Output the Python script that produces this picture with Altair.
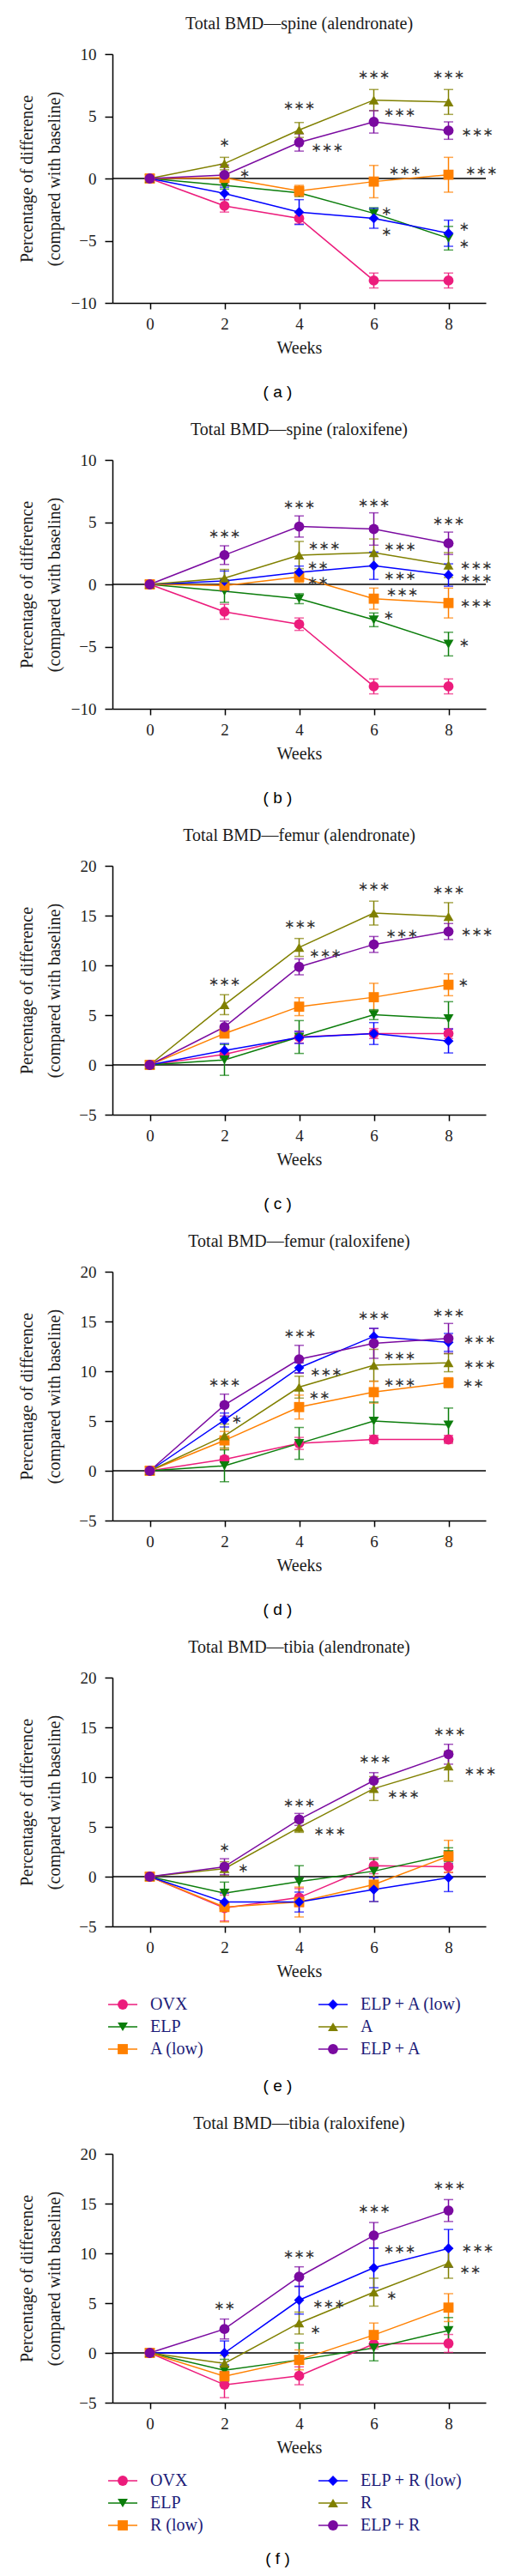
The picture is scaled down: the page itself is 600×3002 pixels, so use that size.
import altair as alt
import pandas as pd

weeks = [0, 2, 4, 6, 8]
names_alen = ["OVX", "ELP", "A (low)", "ELP + A (low)", "A", "ELP + A"]
names_ralo = ["OVX", "ELP", "R (low)", "ELP + R (low)", "R", "ELP + R"]
colors = ["#ec1c7c", "#0b7d0b", "#ff8000", "#0000ff", "#808000", "#7a0aa0"]
shapes = ["circle", "triangle-down", "square", "diamond", "triangle-up", "circle"]

# ---- (a) spine, alendronate
spine_alen_mean = [
    [0, -2.2, -3.2, -8.2, -8.2],
    [0, -0.55, -1.15, -2.8, -4.8],
    [0, 0.05, -1.0, -0.25, 0.3],
    [0, -1.2, -2.7, -3.2, -4.4],
    [0, 1.2, 3.9, 6.3, 6.15],
    [0, 0.28, 2.9, 4.55, 3.85],
]
spine_alen_sem = [
    [0.2, 0.5, 0.45, 0.6, 0.6],
    [0.2, 0.3, 0.3, 0.45, 0.95],
    [0.3, 0.3, 0.45, 1.3, 1.4],
    [0.2, 0.5, 1.0, 0.8, 1.05],
    [0.2, 0.5, 0.6, 0.85, 1.0],
    [0.2, 0.8, 0.7, 0.9, 0.7],
]
spine_alen_stars = [(2.0, 2.9, "*"), (2.54, 0.4, "*"), (4.0, 5.85, "***"), (4.75, 2.5, "***"),
                    (6.0, 8.35, "***"), (6.69, 5.3, "***"), (6.83, 0.6, "***"), (6.34, -2.6, "*"),
                    (6.34, -4.3, "*"), (8.0, 8.35, "***"), (8.77, 3.75, "***"), (8.88, 0.6, "***"),
                    (8.42, -3.85, "*"), (8.42, -5.25, "*")]

# ---- (b) spine, raloxifene
spine_ralo_mean = [
    [0, -2.2, -3.2, -8.2, -8.2],
    [0, -0.55, -1.15, -2.85, -4.8],
    [0, -0.1, 0.6, -1.15, -1.5],
    [0, 0.27, 0.97, 1.5, 0.75],
    [0, 0.5, 2.35, 2.55, 1.55],
    [0, 2.35, 4.65, 4.45, 3.3],
]
spine_ralo_sem = [
    [0.2, 0.6, 0.5, 0.6, 0.6],
    [0.2, 0.9, 0.4, 0.55, 0.95],
    [0.3, 0.35, 0.45, 0.85, 1.2],
    [0.2, 0.8, 0.5, 1.1, 0.9],
    [0.2, 0.7, 1.1, 1.1, 1.0],
    [0.2, 0.75, 0.85, 1.3, 0.9],
]
spine_ralo_stars = [(2.0, 4.05, "***"), (4.0, 6.4, "***"), (4.67, 3.1, "***"), (4.5, 1.55, "**"),
                    (4.5, 0.25, "**"), (6.0, 6.55, "***"), (6.7, 3.05, "***"), (6.7, 0.7, "***"),
                    (6.76, -0.65, "***"), (6.4, -2.5, "*"), (8.0, 5.1, "***"), (8.74, 1.5, "***"),
                    (8.74, 0.45, "***"), (8.74, -1.55, "***"), (8.42, -4.7, "*")]

# ---- (c) femur, alendronate
femur_alen_mean = [
    [0, 1.05, 2.8, 3.15, 3.15],
    [0, 0.5, 2.8, 5.05, 4.65],
    [0, 3.15, 5.85, 6.8, 8.05],
    [0, 1.45, 2.75, 3.15, 2.4],
    [0, 6.05, 11.8, 15.25, 14.9],
    [0, 3.8, 9.85, 12.1, 13.4],
]
femur_alen_sem = [
    [0.2, 0.4, 0.6, 0.5, 0.5],
    [0.2, 1.55, 1.65, 0.5, 1.7],
    [0.4, 0.4, 0.9, 1.4, 1.1],
    [0.2, 0.7, 0.6, 1.1, 1.2],
    [0.2, 1.0, 0.9, 1.2, 1.4],
    [0.2, 0.6, 0.8, 0.8, 0.8],
]
femur_alen_stars = [(2.0, 8.4, "***"), (4.03, 14.15, "***"), (4.7, 11.25, "***"), (6.0, 17.9, "***"),
                    (6.75, 13.2, "***"), (8.0, 17.6, "***"), (8.76, 13.4, "***"), (8.4, 8.25, "*")]

# ---- (d) femur, raloxifene
femur_ralo_mean = [
    [0, 1.15, 2.75, 3.15, 3.15],
    [0, 0.5, 2.75, 5.0, 4.6],
    [0, 3.05, 6.4, 7.9, 8.85],
    [0, 5.1, 10.35, 13.5, 12.9],
    [0, 3.5, 8.4, 10.6, 10.85],
    [0, 6.6, 11.2, 12.8, 13.3],
]
femur_ralo_sem = [
    [0.2, 0.3, 0.6, 0.4, 0.4],
    [0.2, 1.6, 1.6, 1.9, 1.7],
    [0.3, 0.9, 1.2, 1.1, 0.5],
    [0.2, 0.7, 0.5, 0.8, 0.9],
    [0.2, 1.2, 1.1, 1.6, 0.9],
    [0.2, 1.1, 1.4, 1.5, 1.5],
]
femur_ralo_stars = [(2.0, 8.9, "***"), (2.33, 5.15, "*"), (4.02, 13.8, "***"), (4.72, 9.9, "***"),
                    (4.54, 7.6, "**"), (6.0, 15.6, "***"), (6.69, 11.55, "***"), (6.69, 8.85, "***"),
                    (8.0, 15.9, "***"), (8.83, 13.15, "***"), (8.83, 10.7, "***"), (8.66, 8.8, "**")]

# ---- (e) tibia, alendronate
tibia_alen_mean = [
    [0, -3.15, -2.1, 1.1, 1.0],
    [0, -1.65, -0.5, 0.55, 2.2],
    [0, -3.05, -2.55, -0.8, 2.05],
    [0, -2.55, -2.55, -1.3, -0.1],
    [0, 0.8, 4.95, 8.85, 11.1],
    [0, 1.0, 5.75, 9.65, 12.3],
]
tibia_alen_sem = [
    [0.2, 1.3, 0.9, 0.8, 0.6],
    [0.2, 1.1, 1.6, 1.2, 0.7],
    [0.3, 1.5, 1.5, 1.7, 1.6],
    [0.2, 0.9, 1.0, 1.2, 1.4],
    [0.2, 0.7, 0.5, 1.2, 1.5],
    [0.2, 0.8, 0.6, 0.8, 1.0],
]
tibia_alen_stars = [(2.0, 2.95, "*"), (2.5, 0.85, "*"), (4.0, 7.45, "***"), (4.82, 4.6, "***"),
                    (6.03, 11.8, "***"), (6.79, 8.25, "***"), (8.03, 14.6, "***"), (8.85, 10.6, "***")]

# ---- (f) tibia, raloxifene
tibia_ralo_mean = [
    [0, -3.2, -2.3, 0.9, 0.95],
    [0, -1.75, -0.7, 0.5, 2.25],
    [0, -2.35, -0.7, 1.8, 4.55],
    [0, 0.0, 5.3, 8.55, 10.5],
    [0, -1.05, 3.0, 6.1, 9.0],
    [0, 2.4, 7.65, 11.8, 14.3],
]
tibia_ralo_sem = [
    [0.2, 1.3, 0.9, 0.5, 0.9],
    [0.2, 1.1, 1.7, 1.3, 1.3],
    [0.3, 0.9, 1.0, 1.2, 1.4],
    [0.2, 1.2, 1.4, 2.0, 1.9],
    [0.2, 0.8, 1.1, 1.4, 1.5],
    [0.2, 1.0, 1.0, 1.3, 1.1],
]
tibia_ralo_stars = [(2.0, 4.7, "**"), (4.0, 9.95, "***"), (4.79, 4.95, "***"), (4.44, 2.35, "*"),
                    (6.01, 14.45, "***"), (6.69, 10.45, "***"), (6.48, 5.75, "*"), (8.02, 16.8, "***"),
                    (8.78, 10.5, "***"), (8.58, 8.4, "**")]

titles = ["Total BMD\u2014spine (alendronate)", "Total BMD\u2014spine (raloxifene)",
          "Total BMD\u2014femur (alendronate)", "Total BMD\u2014femur (raloxifene)",
          "Total BMD\u2014tibia (alendronate)", "Total BMD\u2014tibia (raloxifene)"]
panel_labels = ["( a )", "( b )", "( c )", "( d )", "( e )", "( f )"]
ticks_spine = [-10, -5, 0, 5, 10]
ticks_other = [-5, 0, 5, 10, 15, 20]

W = 435
H = 290
SERIF = "Liberation Serif"


def panel(title, label, names, means, sems, stars, ydom, yticks, lab_dy=104, legend=False):
    rows = []
    for si, name in enumerate(names):
        for wi, w in enumerate(weeks):
            m = means[si][wi]
            e = sems[si][wi]
            rows.append(dict(series=name, week=w, mean=m, lo=m - e, hi=m + e))
    df = pd.DataFrame(rows)

    xs = alt.Scale(domain=[-1, 9], nice=False, zero=False)
    ys = alt.Scale(domain=ydom, nice=False, zero=False)
    xax = alt.Axis(values=weeks, title="Weeks", format="d")
    yax = alt.Axis(values=yticks, title=["Percentage of difference", "(compared with baseline)"],
                   format="d")
    X = alt.X("week:Q", scale=xs, axis=xax)
    color = alt.Color("series:N", scale=alt.Scale(domain=names, range=colors), legend=None)
    shape = alt.Shape("series:N", scale=alt.Scale(domain=names, range=shapes), legend=None)

    base = alt.Chart(df)
    zero = alt.Chart(pd.DataFrame({"mean": [0]})).mark_rule(color="black", strokeWidth=1.5).encode(
        y=alt.Y("mean:Q", scale=ys, axis=yax))
    lines = base.mark_line(strokeWidth=1.5).encode(X, alt.Y("mean:Q", scale=ys, axis=yax), color)
    bars = base.mark_rule(strokeWidth=1.5).encode(X, alt.Y("lo:Q", scale=ys, axis=yax), y2="hi:Q", color=color)
    cap_lo = base.mark_tick(orient="horizontal", size=11, thickness=1.5).encode(
        X, alt.Y("lo:Q", scale=ys, axis=yax), color)
    cap_hi = base.mark_tick(orient="horizontal", size=11, thickness=1.5).encode(
        X, alt.Y("hi:Q", scale=ys, axis=yax), color)
    pts = base.mark_point(filled=True, size=140, opacity=1).encode(
        X, alt.Y("mean:Q", scale=ys, axis=yax), color, shape)

    sdf = pd.DataFrame(stars, columns=["week", "mean", "txt"])
    sdf["txt"] = sdf["txt"].str.replace("*", "\u2217")
    star_layer = alt.Chart(sdf).mark_text(font="DejaVu Sans", fontSize=15, color="#333333",
                                          baseline="middle").encode(
        X, alt.Y("mean:Q", scale=ys, axis=yax), text="txt:N")

    lab = alt.Chart(pd.DataFrame({"lab": [label]})).mark_text(
        font="Liberation Sans", fontSize=19, baseline="middle", color="black").encode(
        x=alt.value(W / 2 - 25), y=alt.value(H + lab_dy), text="lab:N")

    layers = [zero, lines, bars, cap_lo, cap_hi, pts, star_layer, lab]

    if legend:
        leg = pd.DataFrame({"series": names})
        leg["col"] = [0, 0, 0, 1, 1, 1]
        leg["row"] = [0, 1, 2, 0, 1, 2]
        leg["mx"] = leg["col"] * 245 + 12
        leg["x1"] = leg["mx"] - 17
        leg["x2"] = leg["mx"] + 17
        leg["tx"] = leg["mx"] + 32
        leg["ly"] = H + 91 + leg["row"] * 26
        lb = alt.Chart(leg)
        leg_line = lb.mark_rule(strokeWidth=1.5).encode(
            x=alt.X("x1:Q", scale=None, axis=None), x2="x2:Q",
            y=alt.Y("ly:Q", scale=None, axis=None), color=color)
        leg_pt = lb.mark_point(filled=True, size=140, opacity=1).encode(
            x=alt.X("mx:Q", scale=None, axis=None), y=alt.Y("ly:Q", scale=None, axis=None),
            color=color, shape=shape)
        leg_txt = lb.mark_text(font=SERIF, fontSize=20, align="left", baseline="middle",
                               color="#1c1c78").encode(
            x=alt.X("tx:Q", scale=None, axis=None), y=alt.Y("ly:Q", scale=None, axis=None),
            text="series:N")
        layers += [leg_line, leg_pt, leg_txt]

    return alt.layer(*layers).properties(
        width=W, height=H,
        title=alt.Title(title, font=SERIF, fontSize=20, fontWeight="normal", color="#1a1a1a",
                        anchor="middle", frame="group", offset=16),
    )


panels = [
    panel(titles[0], panel_labels[0], names_alen, spine_alen_mean, spine_alen_sem, spine_alen_stars, [-10, 10], ticks_spine),
    panel(titles[1], panel_labels[1], names_alen, spine_ralo_mean, spine_ralo_sem, spine_ralo_stars, [-10, 10], ticks_spine),
    panel(titles[2], panel_labels[2], names_alen, femur_alen_mean, femur_alen_sem, femur_alen_stars, [-5, 20], ticks_other),
    panel(titles[3], panel_labels[3], names_ralo, femur_ralo_mean, femur_ralo_sem, femur_ralo_stars, [-5, 20], ticks_other),
    panel(titles[4], panel_labels[4], names_alen, tibia_alen_mean, tibia_alen_sem, tibia_alen_stars, [-5, 20], ticks_other, lab_dy=186, legend=True),
    panel(titles[5], panel_labels[5], names_ralo, tibia_ralo_mean, tibia_ralo_sem, tibia_ralo_stars, [-5, 20], ticks_other, lab_dy=182, legend=True),
]

chart = alt.vconcat(*panels, spacing=24).resolve_scale(
    x="independent", y="independent", color="independent", shape="independent"
).configure_view(stroke=None).configure_axis(
    grid=False, domainColor="black", domainWidth=1.5, tickColor="black", tickWidth=1.5,
    labelFont=SERIF, labelFontSize=19, labelColor="#222222",
    titleFont=SERIF, titleFontSize=20, titleFontWeight="normal", titleColor="#1a1a1a",
).configure_axisX(
    tickSize=7, labelPadding=8, titlePadding=8,
).configure_axisY(
    tickSize=9, labelPadding=10, titleX=-100, titleY=H / 2, titleAngle=-90,
    titleBaseline="middle", titleLineHeight=32, titleAlign="center",
).properties(padding={"left": 13, "top": 10, "right": 5, "bottom": 5})

chart.save("out.html", embed_options={"renderer": "svg", "actions": False})
